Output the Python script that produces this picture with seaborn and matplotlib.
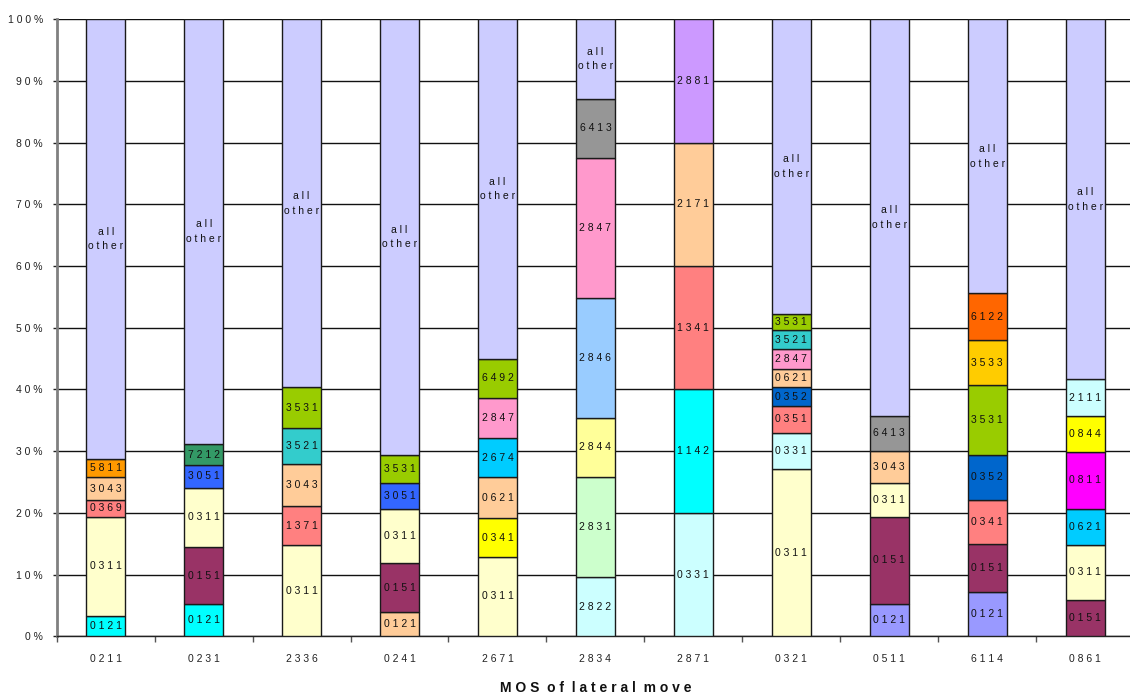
import matplotlib
matplotlib.use("Agg")
import matplotlib.pyplot as plt
from matplotlib.ticker import FixedLocator, FixedFormatter
import pandas as pd
import seaborn as sns

# MOS categories along the x axis
categories = ["0211", "0231", "2336", "0241", "2671", "2834",
              "2871", "0321", "0511", "6114", "0861"]

# Destination MOS codes stacked in each bar (bottom to top) and their shares (%)
codes_0211 = ["0121", "0311", "0369", "3043", "5811", "all other"]
share_0211 = [3.3, 16.1, 2.7, 3.7, 3.0, 71.2]

codes_0231 = ["0121", "0151", "0311", "3051", "7212", "all other"]
share_0231 = [5.2, 9.3, 9.6, 3.7, 3.3, 68.9]

codes_2336 = ["0311", "1371", "3043", "3521", "3531", "all other"]
share_2336 = [14.8, 6.3, 6.9, 5.7, 6.7, 59.6]

codes_0241 = ["0121", "0151", "0311", "3051", "3531", "all other"]
share_0241 = [3.9, 7.9, 8.9, 4.1, 4.6, 70.6]

codes_2671 = ["0311", "0341", "0621", "2674", "2847", "6492", "all other"]
share_2671 = [12.9, 6.2, 6.7, 6.3, 6.6, 6.3, 55.0]

codes_2834 = ["2822", "2831", "2844", "2846", "2847", "6413", "all other"]
share_2834 = [9.6, 16.2, 9.6, 19.5, 22.6, 9.6, 12.9]

codes_2871 = ["0331", "1142", "1341", "2171", "2881"]
share_2871 = [20.0, 20.0, 20.0, 20.0, 20.0]

codes_0321 = ["0311", "0331", "0351", "0352", "0621", "2847", "3521", "3531", "all other"]
share_0321 = [27.1, 5.9, 4.3, 3.1, 2.9, 3.3, 3.0, 2.7, 47.7]

codes_0511 = ["0121", "0151", "0311", "3043", "6413", "all other"]
share_0511 = [5.2, 14.2, 5.4, 5.3, 5.6, 64.3]

codes_6114 = ["0121", "0151", "0341", "0352", "3531", "3533", "6122", "all other"]
share_6114 = [7.2, 7.7, 7.2, 7.3, 11.3, 7.3, 7.6, 44.4]

codes_0861 = ["0151", "0311", "0621", "0811", "0844", "2111", "all other"]
share_0861 = [5.9, 8.9, 5.9, 9.1, 5.9, 6.0, 58.3]

y_ticks = [0, 10, 20, 30, 40, 50, 60, 70, 80, 90, 100]

stacks = {
    "0211": (codes_0211, share_0211), "0231": (codes_0231, share_0231),
    "2336": (codes_2336, share_2336), "0241": (codes_0241, share_0241),
    "2671": (codes_2671, share_2671), "2834": (codes_2834, share_2834),
    "2871": (codes_2871, share_2871), "0321": (codes_0321, share_0321),
    "0511": (codes_0511, share_0511), "6114": (codes_6114, share_6114),
    "0861": (codes_0861, share_0861),
}

# Fill colours (classic spreadsheet palette)
code_colors = {
    "0121": "#00FFFF", "0311": "#FFFFCC", "0369": "#FF8080", "3043": "#FFCC99",
    "5811": "#FF9900", "0151": "#993366", "3051": "#3366FF", "7212": "#339966",
    "1371": "#FF8080", "3521": "#33CCCC", "3531": "#99CC00", "0341": "#FFFF00",
    "0621": "#FFCC99", "2674": "#00CCFF", "2847": "#FF99CC", "6492": "#99CC00",
    "2822": "#CCFFFF", "2831": "#CCFFCC", "2844": "#FFFF99", "2846": "#99CCFF",
    "6413": "#969696", "0331": "#CCFFFF", "1142": "#00FFFF", "1341": "#FF8080",
    "2171": "#FFCC99", "2881": "#CC99FF", "0351": "#FF8080", "0352": "#0066CC",
    "6122": "#FF6600", "3533": "#FFCC00", "0811": "#FF00FF", "0844": "#FFFF00",
    "2111": "#CCFFFF", "all other": "#CCCCFF",
}
color_overrides = {
    ("0241", "0121"): "#FFCC99",
    ("0511", "0121"): "#9999FF",
    ("6114", "0121"): "#9999FF",
    ("6114", "0341"): "#FF8080",
    ("0861", "0621"): "#00CCFF",
}

rows = []
for mos in categories:
    codes, shares = stacks[mos]
    base = 0.0
    for code, share in zip(codes, shares):
        rows.append({"mos": mos, "code": code, "share": share, "bottom": base})
        base += share
segments = pd.DataFrame(rows)

sns.set_style("white")
plt.rcParams["font.family"] = ["Liberation Sans", "DejaVu Sans"]

fig = plt.figure(figsize=(11.30, 6.96), dpi=100)
ax = fig.add_axes([0.0502, 0.0858, 0.9534, 0.8865])

for _, seg in segments.iterrows():
    color = color_overrides.get((seg["mos"], seg["code"]), code_colors[seg["code"]])
    sns.barplot(data=seg.to_frame().T.astype({"share": float}), x="mos", y="share",
                order=categories, bottom=seg["bottom"], color=color,
                saturation=1, width=0.4, errorbar=None,
                edgecolor="#1a1a1a", linewidth=1.0, zorder=3, ax=ax)
    if seg["code"] == "all other":
        label = "a l l\no t h e r"
    else:
        label = " ".join(seg["code"])
    ax.text(categories.index(seg["mos"]), seg["bottom"] + seg["share"] / 2, label,
            ha="center", va="center", fontsize=7.5, color="#111111",
            linespacing=1.6, zorder=4)

ax.set_xlim(-0.5, len(categories) - 0.5)
ax.set_ylim(0, 100)

ax.yaxis.set_major_locator(FixedLocator(y_ticks))
ax.yaxis.set_major_formatter(FixedFormatter([" ".join(f"{t}%") for t in y_ticks]))
ax.set_xticks(range(len(categories)))
ax.set_xticklabels([" ".join(c) for c in categories])
ax.set_xticks([i + 0.5 for i in range(-1, len(categories))], minor=True)

ax.tick_params(axis="y", which="major", left=True, length=3, width=1,
               color="#222222", pad=7, labelsize=7.5, labelcolor="#222222")
ax.tick_params(axis="x", which="major", bottom=False, length=0, pad=13,
               labelsize=7.5, labelcolor="#222222")
ax.tick_params(axis="x", which="minor", bottom=True, length=4, width=1,
               color="#555555")

ax.set_axisbelow(True)
ax.yaxis.grid(True, color="#111111", linewidth=1.0)
ax.xaxis.grid(False)

for side in ("top", "right"):
    ax.spines[side].set_visible(False)
ax.spines["left"].set_color("#808080")
ax.spines["left"].set_linewidth(2.0)
ax.spines["bottom"].set_color("#222222")
ax.spines["bottom"].set_linewidth(1.0)

ax.set_ylabel("")
ax.set_xlabel("M O S  o f  l a t e r a l  m o v e", fontsize=10, fontweight="bold",
              color="#111111")
ax.xaxis.set_label_coords(0.5, -0.073)

fig.savefig("out.png", dpi=100)
